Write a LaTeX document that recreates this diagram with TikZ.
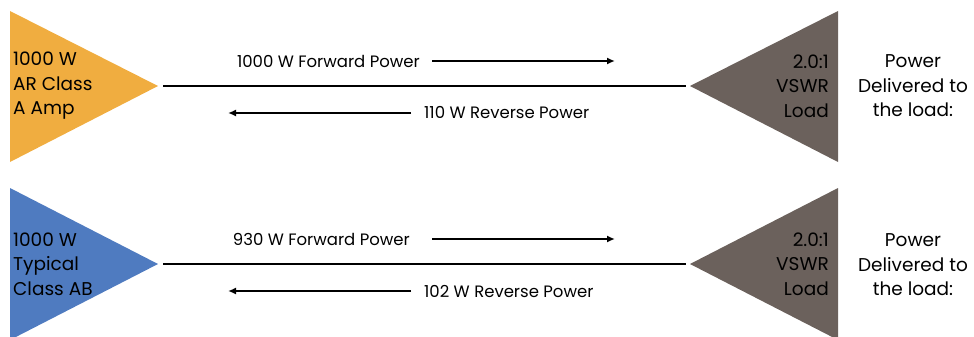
\documentclass[tikz,border=0pt]{standalone}
\usepackage{fontspec}
\setmainfont{Poppins}
\usetikzlibrary{arrows.meta}
\definecolor{ampOrange}{HTML}{F0AD40}
\definecolor{ampBlue}{HTML}{4F7BC0}
\definecolor{loadGray}{HTML}{6B615C}
\tikzset{
  label/.style={font=\fontsize{16.5}{18}\selectfont, inner sep=0pt},
  block/.style={font=\fontsize{18.5}{24.5}\selectfont, inner sep=0pt, align=left},
  powarrow/.style={line width=1.6pt,-{Latex[length=8pt,width=7pt]}},
  txline/.style={line width=2.2pt}
}
\begin{document}
\begin{tikzpicture}[x=1pt,y=-1pt]
\useasboundingbox (0,0) rectangle (974,337);

% Amplificador superior (clase A)
\fill[ampOrange] (10,11) -- (158,86) -- (10,162) -- cycle;
\coordinate (ampA) at (163,86);
\node[block,anchor=west] (txtA) at (13,86) {1000 W\\AR Class\\A Amp};

% Carga superior
\fill[loadGray] (838,11) -- (690,86) -- (838,162) -- cycle;
\coordinate (loadA) at (686,86);
\node[block,anchor=east,align=right] (vswrA) at (829,86) {2.0:1\\VSWR\\Load};
\node[block,align=center] (delivA) at (913,86) {Power\\Delivered to\\the load:};

% Linea de transmision superior
\draw[txline] (ampA) -- (loadA);

% Potencias directa e inversa superiores
\node[label,anchor=east] (fwdA) at (420,61) {1000 W Forward Power};
\coordinate (fwdAend) at (615,61);
\draw[powarrow] ([xshift=12pt]fwdA.east) -- (fwdAend);
\node[label,anchor=west] (revA) at (424,113) {110 W Reverse Power};
\coordinate (revAend) at (228,113);
\draw[powarrow] ([xshift=-13pt]revA.west) -- (revAend);

% Amplificador inferior (clase AB)
\fill[ampBlue] (10,188) -- (158,264) -- (10,340) -- cycle;
\coordinate (ampB) at (163,264);
\node[block,anchor=west] (txtB) at (13,264) {1000 W\\Typical\\Class AB};

% Carga inferior
\fill[loadGray] (838,188) -- (690,264) -- (838,340) -- cycle;
\coordinate (loadB) at (686,264);
\node[block,anchor=east,align=right] (vswrB) at (829,264) {2.0:1\\VSWR\\Load};
\node[block,align=center] (delivB) at (913,265) {Power\\Delivered to\\the load:};

% Linea de transmision inferior
\draw[txline] (ampB) -- (loadB);

% Potencias directa e inversa inferiores
\node[label,anchor=east] (fwdB) at (410,239) {930 W Forward Power};
\coordinate (fwdBend) at (615,239);
\draw[powarrow] (432,239) -- (fwdBend);
\node[label,anchor=west] (revB) at (424,291) {102 W Reverse Power};
\coordinate (revBend) at (228,291);
\draw[powarrow] ([xshift=-13pt]revB.west) -- (revBend);

\end{tikzpicture}
\end{document}
